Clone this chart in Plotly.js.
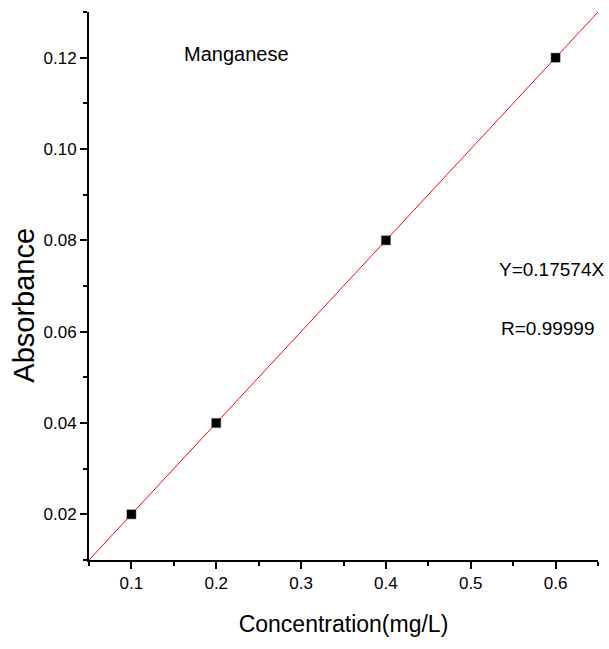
<!DOCTYPE html>
<html>
<head>
<meta charset="utf-8">
<script src="https://cdn.plot.ly/plotly-3.0.1.min.js"></script>
<style>html,body{margin:0;padding:0;background:#fff;}#chart{width:609px;height:649px;}</style>
</head>
<body>
<div id="chart"></div>
<script>
// Data
const concentration = [0.1, 0.2, 0.4, 0.6];
const absorbance = [0.02, 0.04, 0.08, 0.12];
const fitX = [0.05, 0.65];
const fitY = [0.01, 0.13];
const chartTitle = "Manganese";
const equationText = "Y=0.17574X";
const rText = "R=0.99999";
const xTitle = "Concentration(mg/L)";
const yTitle = "Absorbance";

const FONT = "Liberation Sans, Arial, sans-serif";

const traces = [
  {
    x: fitX, y: fitY, mode: "lines", type: "scatter",
    line: {color: "#ff0000", width: 1}, hoverinfo: "skip", showlegend: false
  },
  {
    x: concentration, y: absorbance, mode: "markers", type: "scatter",
    marker: {symbol: "square", size: 9, color: "#000000", line: {color: "#333", width: 0.5}},
    showlegend: false
  }
];

const layout = {
  width: 609, height: 649,
  margin: {l: 88.5, r: 10.5, t: 12, b: 89},
  paper_bgcolor: "#fff", plot_bgcolor: "#fff",
  showlegend: false,
  font: {family: FONT, color: "#000"},
  xaxis: {
    range: [0.05, 0.65], tick0: 0, dtick: 0.1, tickformat: ".1f",
    showgrid: false, zeroline: false,
    showline: true, linecolor: "#000", linewidth: 2,
    ticks: "outside", ticklen: 7, tickwidth: 2, tickcolor: "#000",
    tickfont: {family: FONT, size: 17, color: "#000"},
    minor: {dtick: 0.05, tick0: 0, ticks: "outside", ticklen: 4, tickwidth: 2, tickcolor: "#000", showgrid: false},
    title: {text: xTitle, font: {family: FONT, size: 23, color: "#000"}, standoff: 23}
  },
  yaxis: {
    range: [0.01, 0.13], tick0: 0, dtick: 0.02, tickformat: ".2f",
    showgrid: false, zeroline: false,
    showline: true, linecolor: "#000", linewidth: 2,
    ticks: "outside", ticklen: 7, tickwidth: 2, tickcolor: "#000",
    tickfont: {family: FONT, size: 17, color: "#000"},
    minor: {dtick: 0.01, tick0: 0, ticks: "outside", ticklen: 4, tickwidth: 2, tickcolor: "#000", showgrid: false},
    title: {text: ""}
  },
  annotations: [
    {text: yTitle, xref: "paper", yref: "paper", x: -0.1284, y: 0.4653, textangle: -90,
     xanchor: "center", yanchor: "middle", showarrow: false,
     font: {family: FONT, size: 29, color: "#000"}},
    {text: chartTitle, xref: "x", yref: "y", x: 0.2235, y: 0.1208, showarrow: false,
     font: {family: FONT, size: 20, color: "#000"}},
    {text: equationText, xref: "x", yref: "y", x: 0.5953, y: 0.0737, showarrow: false,
     font: {family: FONT, size: 19, color: "#000"}},
    {text: rText, xref: "x", yref: "y", x: 0.5912, y: 0.0606, showarrow: false,
     font: {family: FONT, size: 19, color: "#000"}}
  ]
};

Plotly.newPlot("chart", traces, layout, {displayModeBar: false, staticPlot: true});
</script>
</body>
</html>
